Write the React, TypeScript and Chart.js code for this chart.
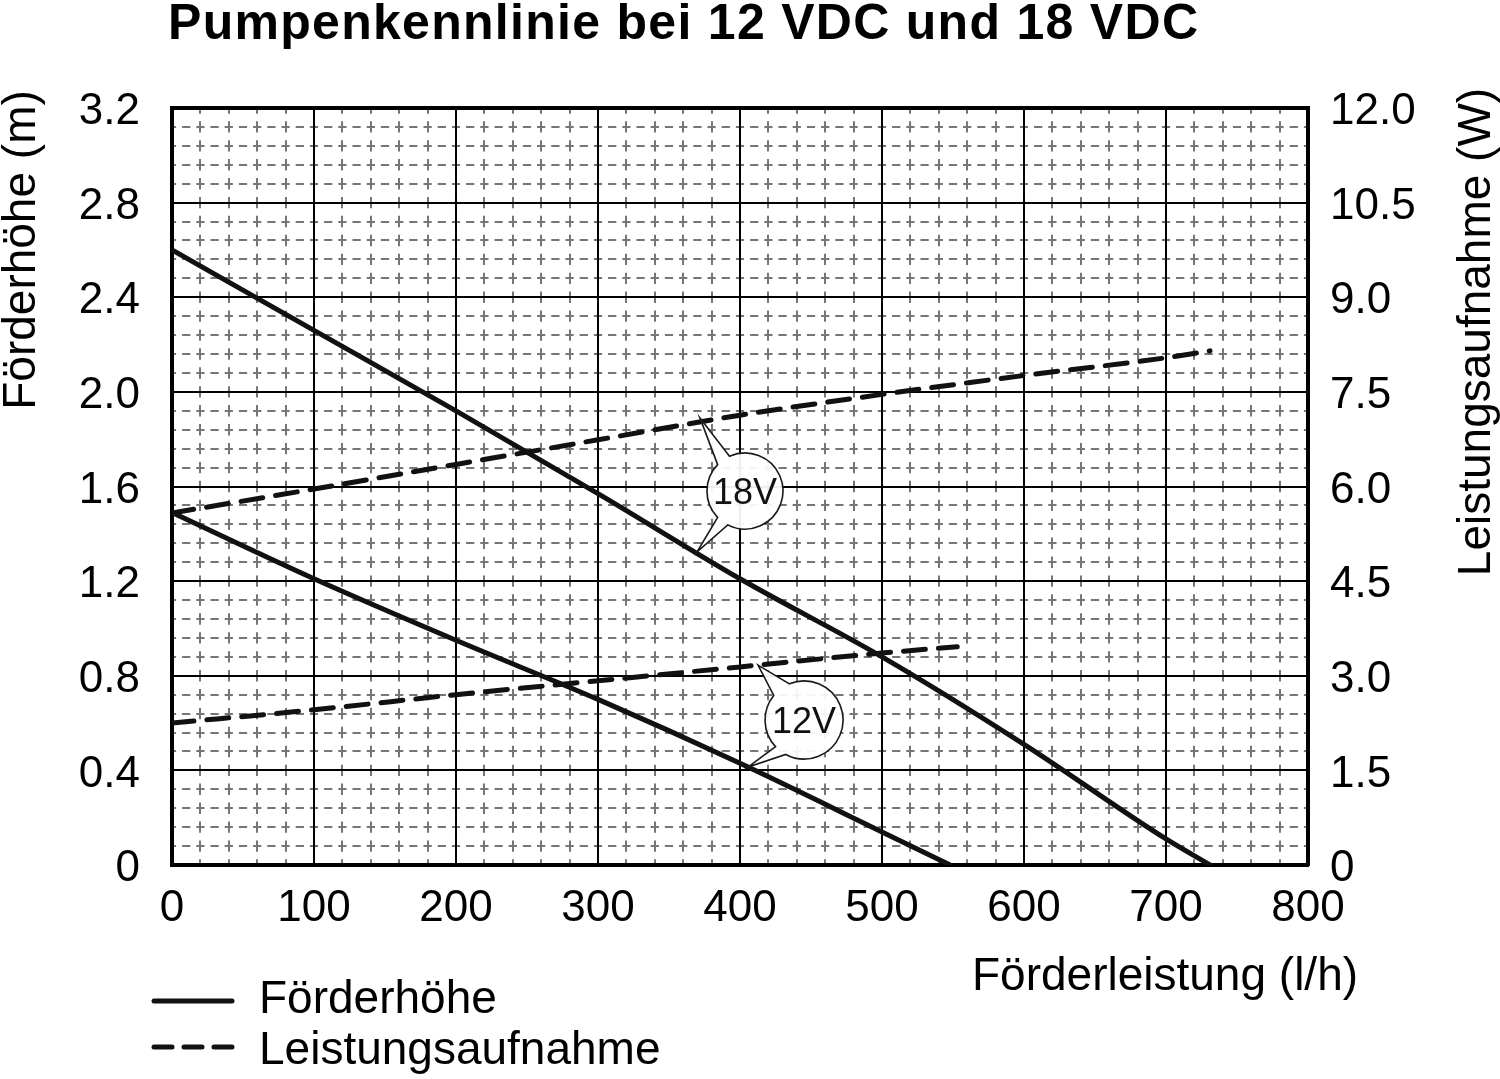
import React, { useEffect, useRef } from 'react';
import { Chart, registerables } from 'chart.js';

Chart.register(...registerables);

// ---- data ----
const titleText = 'Pumpenkennlinie bei 12 VDC und 18 VDC';
const leftAxisTitle = 'Förderhöhe (m)';
const rightAxisTitle = 'Leistungsaufnahme (W)';
const xAxisTitle = 'Förderleistung (l/h)';
const legendLabels = ['Förderhöhe', 'Leistungsaufnahme'];

const headFlow18 = [0, 100, 200, 300, 400, 500, 600, 700, 731];
const head18 = [2.6, 2.26, 1.92, 1.57, 1.21, 0.88, 0.51, 0.11, 0];
const headFlow12 = [0, 100, 200, 300, 400, 500, 548];
const head12 = [1.49, 1.21, 0.95, 0.7, 0.43, 0.14, 0];
const powerFlow18 = [0, 100, 200, 300, 400, 500, 600, 700, 731];
const power18 = [5.58, 5.96, 6.35, 6.74, 7.13, 7.46, 7.76, 8.04, 8.15];
const powerFlow12 = [0, 100, 200, 300, 400, 500, 553];
const power12 = [2.25, 2.46, 2.7, 2.92, 3.14, 3.36, 3.46];

// callouts: label, centre (flow, head), pointer tips (flow, head)
const calloutLabels = ['18V', '12V'];
const calloutCenters = [[403.5, 1.581], [445.1, 0.613]];
const calloutTipsUpper = [[371.8, 1.89], [412.7, 0.845]];
const calloutTipsLower = [[369.7, 1.323], [405.6, 0.414]];

const FONT = '"Liberation Sans", Arial, Helvetica, sans-serif';

const pts = (xs: number[], ys: number[]) => xs.map((x, i) => ({ x, y: ys[i] }));

const deg = (d: number) => (d * Math.PI) / 180;

const paperPlugin = {
  id: 'paperGrid',
  beforeDraw(chart: any) {
    const { ctx, chartArea: a, scales } = chart;
    const xs = scales.x;
    const ys = scales.y;
    ctx.save();
    ctx.strokeStyle = '#767676';
    ctx.lineWidth = 2;
    // vertical minor lines
    const vPeriod = (a.bottom - a.top) / 40;
    const vDash = vPeriod * 0.6;
    ctx.setLineDash([vDash, vPeriod - vDash]);
    for (let i = 1; i < 40; i++) {
      if (i % 5 === 0) continue;
      const px = Math.round(xs.getPixelForValue(i * 20));
      ctx.lineDashOffset = vDash / 2;
      ctx.beginPath();
      ctx.moveTo(px, a.bottom);
      ctx.lineTo(px, a.top);
      ctx.stroke();
    }
    // horizontal minor lines
    const hPeriod = (a.right - a.left) / 80;
    const hDash = hPeriod * 0.58;
    ctx.setLineDash([hDash, hPeriod - hDash]);
    for (let i = 1; i < 40; i++) {
      if (i % 5 === 0) continue;
      const py = Math.round(ys.getPixelForValue(i * 0.08));
      ctx.lineDashOffset = hDash / 2;
      ctx.beginPath();
      ctx.moveTo(a.left, py);
      ctx.lineTo(a.right, py);
      ctx.stroke();
    }
    ctx.restore();
  },
  afterDraw(chart: any) {
    const { ctx, scales } = chart;
    const xs = scales.x;
    const ys = scales.y;
    ctx.save();

    // callouts
    const wedges = [
      { up: [-136, -114], low: [117, 136], r: 38 },
      { up: [-141, -112], low: [118, 137], r: 39 },
    ];
    calloutLabels.forEach((lab, i) => {
      const cx = xs.getPixelForValue(calloutCenters[i][0]);
      const cy = ys.getPixelForValue(calloutCenters[i][1]);
      const t1x = xs.getPixelForValue(calloutTipsUpper[i][0]);
      const t1y = ys.getPixelForValue(calloutTipsUpper[i][1]);
      const t2x = xs.getPixelForValue(calloutTipsLower[i][0]);
      const t2y = ys.getPixelForValue(calloutTipsLower[i][1]);
      const w = wedges[i];
      const r = w.r;
      ctx.beginPath();
      ctx.moveTo(t1x, t1y);
      ctx.lineTo(cx + r * Math.cos(deg(w.up[1])), cy + r * Math.sin(deg(w.up[1])));
      ctx.arc(cx, cy, r, deg(w.up[1]), deg(w.low[0]), false);
      ctx.lineTo(t2x, t2y);
      ctx.lineTo(cx + r * Math.cos(deg(w.low[1])), cy + r * Math.sin(deg(w.low[1])));
      ctx.arc(cx, cy, r, deg(w.low[1]), deg(w.up[0] + 360), false);
      ctx.closePath();
      ctx.fillStyle = 'rgba(255,255,255,0.93)';
      ctx.fill();
      ctx.strokeStyle = '#1a1a1a';
      ctx.lineWidth = 1.6;
      ctx.setLineDash([]);
      ctx.stroke();
      ctx.fillStyle = '#111';
      ctx.font = `36px ${FONT}`;
      ctx.textAlign = 'center';
      ctx.textBaseline = 'alphabetic';
      ctx.fillText(lab, cx, cy + 13);
    });

    // title
    ctx.fillStyle = '#000';
    ctx.font = `bold 50px ${FONT}`;
    ctx.textAlign = 'left';
    ctx.textBaseline = 'alphabetic';
    const tw = ctx.measureText(titleText).width;
    const spacing = Math.max(0, (1030 - tw) / (titleText.length - 1));
    (ctx as any).letterSpacing = `${spacing.toFixed(2)}px`;
    ctx.fillText(titleText, 168, 39);
    (ctx as any).letterSpacing = '0px';

    // axis titles
    ctx.font = `46px ${FONT}`;
    ctx.textAlign = 'center';
    ctx.save();
    ctx.translate(35, 250);
    ctx.rotate(-Math.PI / 2);
    ctx.fillText(leftAxisTitle, 0, 0);
    ctx.restore();
    ctx.save();
    ctx.translate(1490, 332);
    ctx.rotate(-Math.PI / 2);
    ctx.fillText(rightAxisTitle, 0, 0);
    ctx.restore();
    ctx.textAlign = 'left';
    ctx.fillText(xAxisTitle, 972, 990);

    // legend
    ctx.strokeStyle = '#111';
    ctx.lineWidth = 5;
    ctx.lineCap = 'round';
    ctx.setLineDash([]);
    ctx.beginPath();
    ctx.moveTo(154, 1001);
    ctx.lineTo(232, 1001);
    ctx.stroke();
    ctx.setLineDash([18, 12]);
    ctx.beginPath();
    ctx.moveTo(154, 1047);
    ctx.lineTo(232, 1047);
    ctx.stroke();
    ctx.setLineDash([]);
    ctx.fillStyle = '#000';
    ctx.font = `46px ${FONT}`;
    ctx.fillText(legendLabels[0], 259, 1013);
    ctx.fillText(legendLabels[1], 259, 1064);

    ctx.restore();
  },
};

const tickFont = { family: FONT, size: 44 };

export default function App() {
  const ref = useRef<HTMLCanvasElement | null>(null);

  useEffect(() => {
    if (!ref.current) return;
    const lineBase = {
      borderColor: '#111',
      borderWidth: 5,
      pointRadius: 0,
      fill: false,
      cubicInterpolationMode: 'monotone' as const,
      borderCapStyle: 'round' as const,
    };
    const chart = new Chart(ref.current, {
      type: 'line',
      data: {
        datasets: [
          { ...lineBase, label: 'Förderhöhe 18V', data: pts(headFlow18, head18), yAxisID: 'y' },
          { ...lineBase, label: 'Förderhöhe 12V', data: pts(headFlow12, head12), yAxisID: 'y' },
          { ...lineBase, label: 'Leistungsaufnahme 18V', data: pts(powerFlow18, power18), yAxisID: 'y2', borderDash: [22, 13] },
          { ...lineBase, label: 'Leistungsaufnahme 12V', data: pts(powerFlow12, power12), yAxisID: 'y2', borderDash: [22, 13] },
        ],
      },
      options: {
        responsive: false,
        animation: false,
        devicePixelRatio: 1,
        layout: { padding: { top: 108, left: 0, right: 0, bottom: 0 } },
        plugins: {
          legend: { display: false },
          title: { display: false },
          tooltip: { enabled: false },
        },
        scales: {
          x: {
            type: 'linear',
            position: 'bottom',
            min: 0,
            max: 800,
            ticks: { stepSize: 100, color: '#000', font: tickFont, padding: 17, maxRotation: 0, autoSkip: false },
            grid: { color: '#000', lineWidth: 2, drawTicks: false },
            border: { color: '#000', width: 4 },
            afterFit: (s: any) => { s.height = 214; },
          },
          y: {
            type: 'linear',
            position: 'left',
            min: 0,
            max: 3.2,
            ticks: {
              stepSize: 0.4,
              color: '#000',
              font: tickFont,
              padding: 32,
              labelOffset: 4,
              callback: (v: any) => (Math.abs(Number(v)) < 1e-9 ? '0' : Number(v).toFixed(1)),
            },
            grid: {
              color: '#000',
              lineWidth: (c: any) => (c.tick && Math.abs(c.tick.value - 3.2) < 1e-6 ? 4 : 2),
              drawTicks: false,
            },
            border: { color: '#000', width: 4 },
            afterFit: (s: any) => { s.width = 172; },
          },
          y2: {
            type: 'linear',
            position: 'right',
            min: 0,
            max: 12,
            ticks: {
              stepSize: 1.5,
              color: '#000',
              font: tickFont,
              padding: 22,
              labelOffset: 4,
              callback: (v: any) => (Math.abs(Number(v)) < 1e-9 ? '0' : Number(v).toFixed(1)),
            },
            grid: { display: false, drawTicks: false },
            border: { color: '#000', width: 4 },
            afterFit: (s: any) => { s.width = 192; },
          },
        },
      },
      plugins: [paperPlugin],
    } as any);
    return () => chart.destroy();
  }, []);

  return (
    <div style={{ position: 'absolute', left: 0, top: 0, width: 1500, height: 1079, background: '#fff' }}>
      <canvas ref={ref} width={1500} height={1079} style={{ display: 'block' }} />
    </div>
  );
}
